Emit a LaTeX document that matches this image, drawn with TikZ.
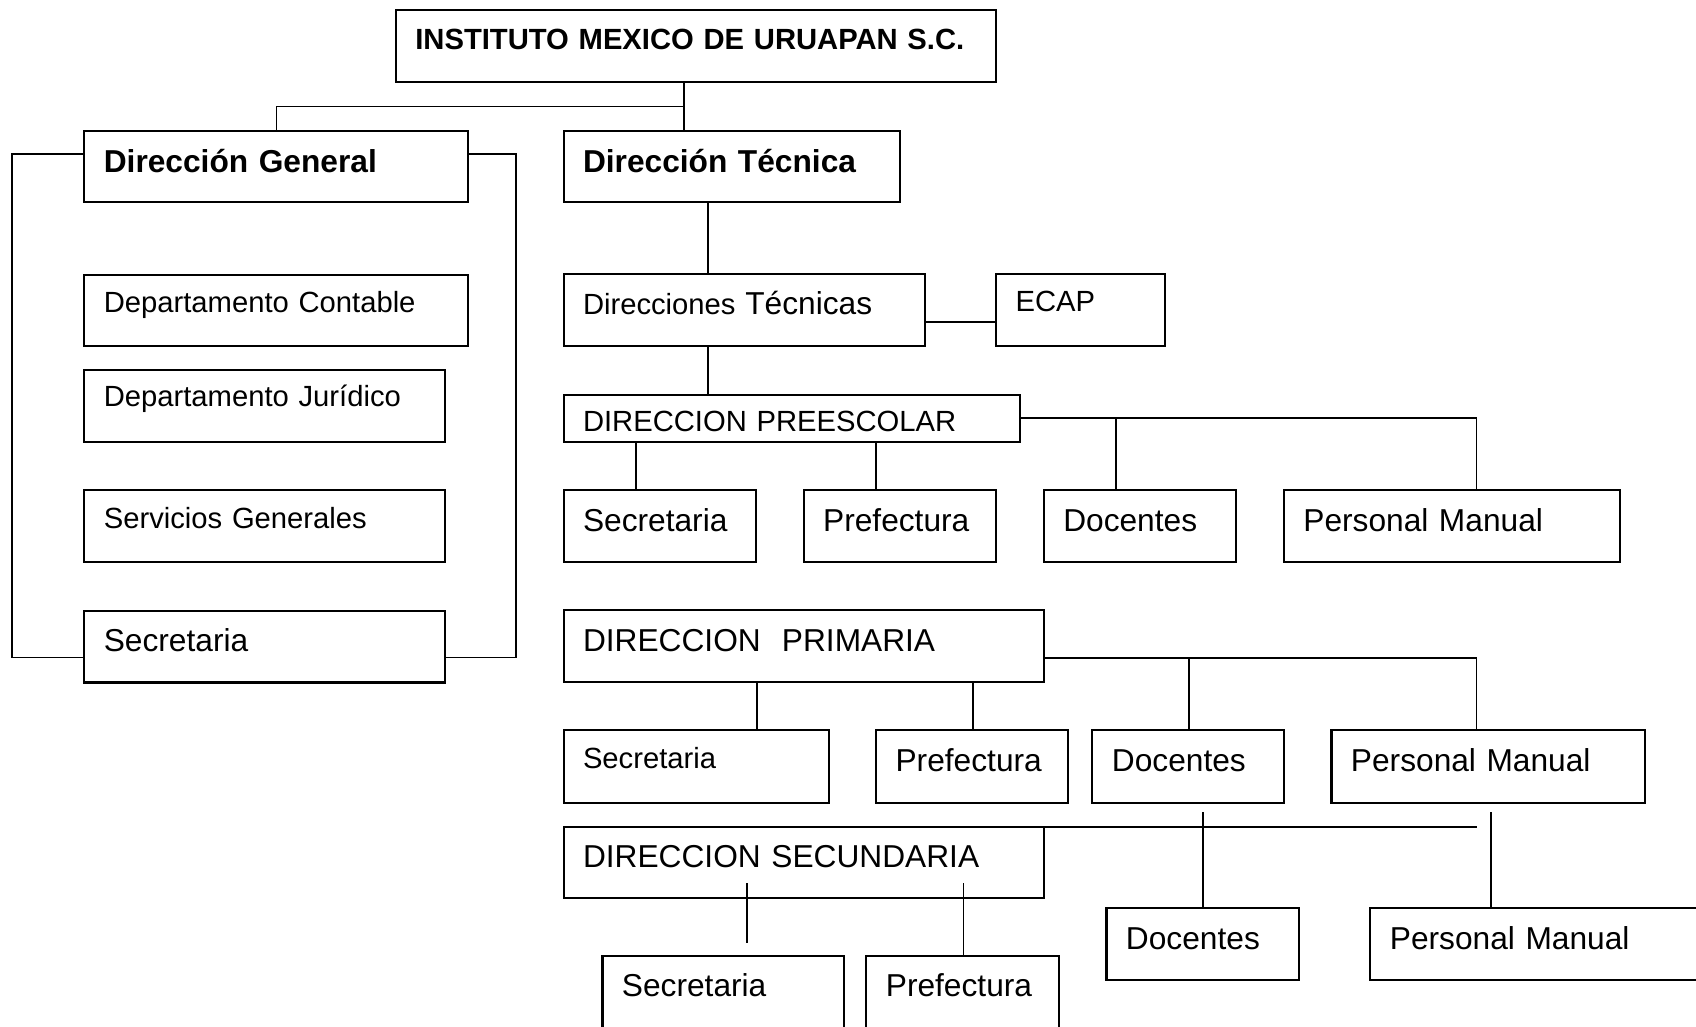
\documentclass[tikz,border=0pt]{standalone}
\usepackage{fontspec}
\setmainfont{Liberation Sans}

\begin{document}
\begin{tikzpicture}[
		x=1pt, y=-1pt,
		box/.style n args={3}{draw, line width=1.9pt, anchor=north west, inner xsep=18pt, inner ysep=0pt, outer sep=0pt, align=left, text width=#1pt, text height=#2pt, text depth=#3pt},
		link/.style={line width=1.5pt},
		sm/.style={font=\fontsize{27}{32}\selectfont},
		lg/.style={font=\fontsize{29.3}{35}\selectfont},
		hd/.style={font=\fontsize{29.3}{35}\selectfont\bfseries},
		title/.style={font=\fontsize{27}{32}\selectfont\bfseries},
	]
		\useasboundingbox (0,0) rectangle (1568,949);
		\clip (0,0) rectangle (1568,949);

		\node[box={519}{37}{30}, title] (inst) at (366,9) {INSTITUTO MEXICO DE URUAPAN S.C.};
		\node[box={319}{38.5}{27.5}, hd] (dg) at (78,121) {Dirección General};
		\node[box={275}{38.5}{27.5}, hd] (dt) at (521,121) {Dirección Técnica};

		\node[box={319}{35}{31}, sm] (cont) at (78,254) {Departamento Contable};
		\node[box={297}{34}{33}, sm] (jur) at (78,342) {Departamento Jurídico};
		\node[box={297}{35.5}{31.5}, sm] (serv) at (78,453) {Servicios Generales};
		\node[box={297}{37.5}{28.5}, lg] (secg) at (78,565) {Secretaria};

		\node[box={298}{38}{29}, sm] (dirtec) at (521,253) {Direcciones {\fontsize{29.3}{35}\selectfont Técnicas}};
		\node[box={120}{35}{32}, sm] (ecap) at (921,253) {ECAP};

		\node[box={386}{33.5}{10.5}, sm] (pre) at (521,365) {DIRECCION PREESCOLAR};
		\node[box={142}{38.5}{28.5}, lg] (secpre) at (521,453) {Secretaria};
		\node[box={142}{38.5}{28.5}, lg] (prefpre) at (743,453) {Prefectura};
		\node[box={142}{38.5}{28.5}, lg] (docpre) at (965,453) {Docentes};
		\node[box={275}{38.5}{28.5}, lg] (perpre) at (1187,453) {Personal Manual};

		\node[box={408}{38.6}{28}, lg] (pri) at (521,564) {DIRECCION\ \ PRIMARIA};
		\node[box={209}{35.5}{31.5}, sm] (secpri) at (521,675) {Secretaria};
		\node[box={141}{38.5}{28.5}, lg] (prefpri) at (810,675) {Prefectura};
		\node[box={141}{38.5}{28.5}, lg] (docpri) at (1010,675) {Docentes};
		\node[box={254}{38.5}{28.5}, lg] (perpri) at (1231,675) {Personal Manual};

		\node[box={408}{37.2}{28.4}, lg] (sec) at (521,764.4) {DIRECCION SECUNDARIA};
		\node[box={187}{37}{50}, lg] (secsec) at (557,884) {Secretaria};
		\node[box={142}{37}{50}, lg] (prefsec) at (801,884) {Prefectura};
		\node[box={142}{38}{28.5}, lg] (docsec) at (1023,839.5) {Docentes};
		\node[box={297}{38}{28.5}, lg] (persec) at (1267,839.5) {Personal Manual};

		\coordinate (j0) at (632.4,98.6);
		\draw[link] (j0 |- inst.south) -- (j0 |- dt.north);
		\draw[link] (j0) -| (dg.north);

		\coordinate (gl1) at (11,142.4);
		\coordinate (gl2) at (11,608);
		\coordinate (gr1) at (477,142.4);
		\coordinate (gr2) at (477,608);
		\draw[link] (dg.west |- gl1) -- (gl1) -- (gl2) -- (secg.west |- gl2);
		\draw[link] (dg.east |- gr1) -- (gr1) -- (gr2) -- (secg.east |- gr2);

		\coordinate (tv) at (654.8,0);
		\draw[link] (tv |- dt.south) -- (tv |- dirtec.north);
		\draw[link] (tv |- dirtec.south) -- (tv |- pre.north);
		\coordinate (ey) at (0,297.7);
		\draw[link] (dirtec.east |- ey) -- (ecap.west |- ey);

		\coordinate (pa) at (1032,386.6);
		\coordinate (pb) at (1365,386.6);
		\coordinate (pc) at (588,0);
		\coordinate (pd) at (810,0);
		\draw[link] (pre.east |- pb) -- (pb) -- (pb |- perpre.north);
		\draw[link] (pa) -- (pa |- docpre.north);
		\draw[link] (pc |- pre.south) -- (pc |- secpre.north);
		\draw[link] (pd |- pre.south) -- (pd |- prefpre.north);

		\coordinate (qa) at (1099,608.6);
		\coordinate (qb) at (1365,608.6);
		\coordinate (qc) at (699.6,0);
		\coordinate (qd) at (899.4,0);
		\draw[link] (pri.east |- qb) -- (qb) -- (qb |- perpri.north);
		\draw[link] (qa) -- (qa |- docpri.north);
		\draw[link] (qc |- pri.south) -- (qc |- secpri.north);
		\draw[link] (qd |- pri.south) -- (qd |- prefpri.north);

		\coordinate (sa) at (1365.5,764.4);
		\coordinate (sb) at (1112,751);
		\coordinate (sc) at (1378.5,751);
		\coordinate (sd) at (690.4,816.6);
		\coordinate (se) at (890.6,816.6);
		\coordinate (sf) at (690.4,872);
		\draw[link] (sec.north east) -- (sa);
		\draw[link] (sb) -- (sb |- docsec.north);
		\draw[link] (sc) -- (sc |- persec.north);
		\draw[link] (sd) -- (sf);
		\draw[link] (se) -- (se |- prefsec.north);
	\end{tikzpicture}
\end{document}
